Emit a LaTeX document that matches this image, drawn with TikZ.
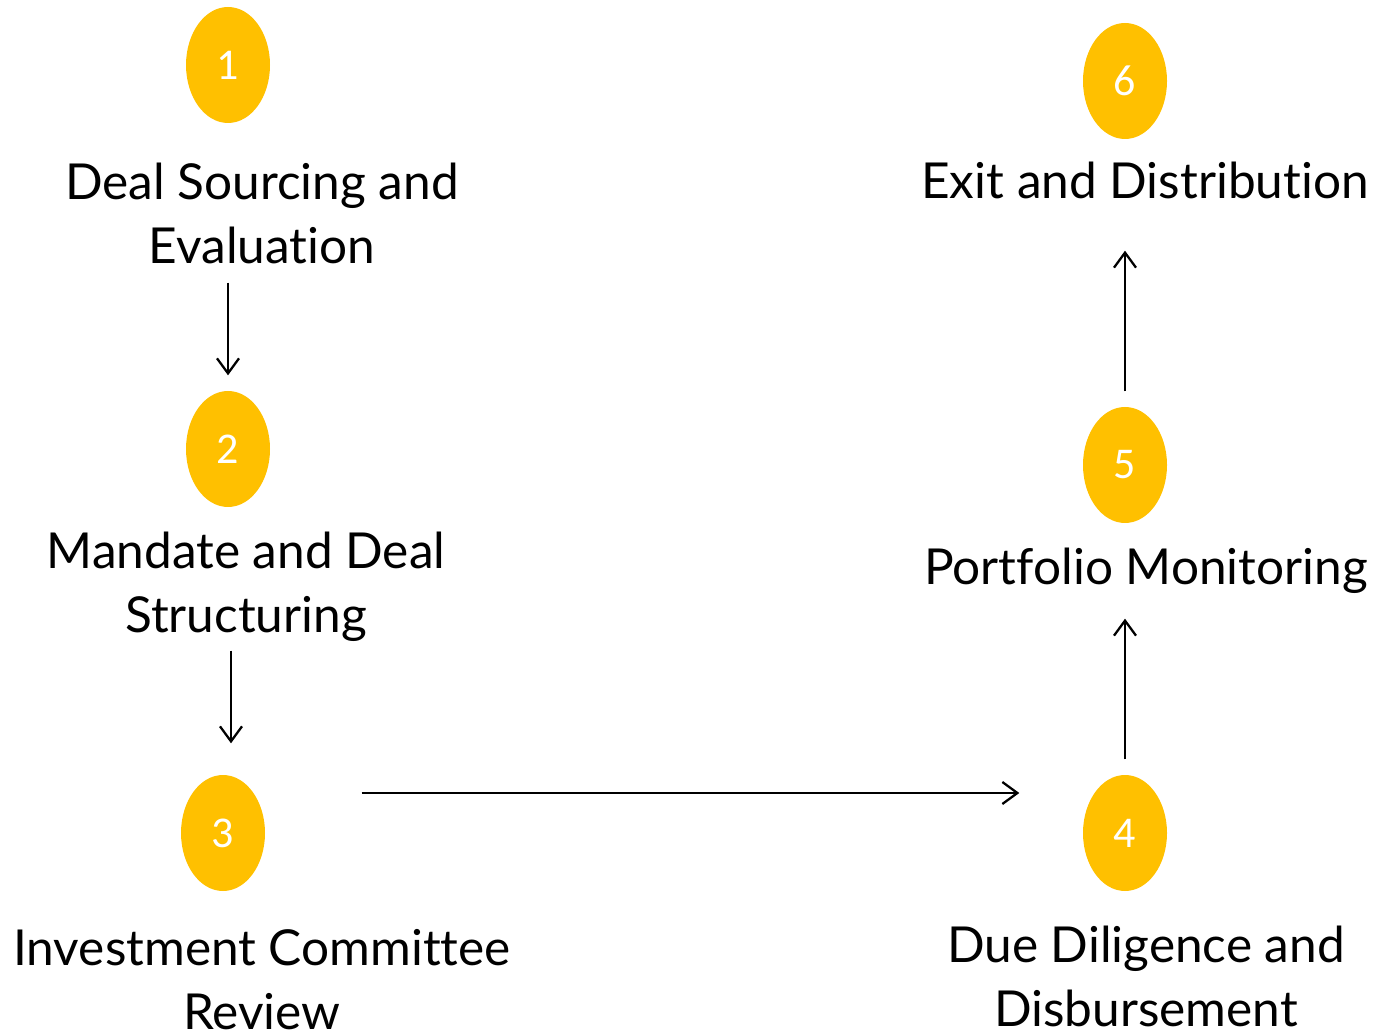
\documentclass[tikz,border=0pt]{standalone}
\usepackage{fontspec}
\setmainfont{Lato}[Ligatures=NoCommon,RawFeature=-liga]
\newfontfamily\numfont{Carlito}
\usetikzlibrary{graphs}
\usetikzlibrary{arrows.meta}
\usetikzlibrary{shapes.geometric}

\definecolor{stepgold}{HTML}{FFC000}

\begin{document}
\begin{tikzpicture} [every node/.style={align=center,inner sep=0pt},
        num/.style={ellipse,fill=stepgold,text=white,minimum width=0.84cm,minimum height=1.16cm,font=\numfont\fontsize{12.5}{14}\selectfont},
        lbl/.style={font=\fontsize{14.1}{18.2}\selectfont},
        arr/.style={-{Straight Barb[length=1.5mm,width=2.2mm]},line width=0.65pt}]
            \useasboundingbox (0,0) rectangle (13.91,-10.34);

            \node[num] (n1) at (2.28, -0.65)    {1};
            \node[num] (n2) at (2.28, -4.49)    {2};
            \node[num] (n3) at (2.23, -8.33)    {3};
            \node[num] (n4) at (11.25, -8.33)   {4};
            \node[num] (n5) at (11.25, -4.65)   {5};
            \node[num] (n6) at (11.25, -0.81)   {6};

            \node[lbl] (l1) at (2.62, -2.13)    {Deal Sourcing and\\Evaluation};
            \node[lbl] (l2) at (2.46, -5.87)    {Mandate and Deal\\Structuring};
            \node[lbl] (l3) at (2.62, -9.80)    {Investment Committee\\Review};
            \node[lbl] (l4) at (11.46, -9.76)   {Due Diligence and\\Disbursement};
            \node[lbl] (l5) at (11.46, -5.71)   {Portfolio Monitoring};
            \node[lbl] (l6) at (11.45, -1.80)   {Exit and Distribution};

            \draw[arr,shorten <=1.59cm,shorten >=0.15cm] (n1.south) -- (n2.north);
            \draw[arr,shorten <=1.43cm,shorten >=0.31cm] ([xshift=0.03cm]n2.south) -- ([xshift=0.03cm]n2.south |- n3.north);
            \draw[arr,shorten <=0.96cm,shorten >=0.63cm] ([yshift=0.4cm]n3.east) -- ([yshift=0.4cm]n4.west);
            \draw[arr,shorten <=0.15cm,shorten >=0.95cm] (n4.north) -- (n5.south);
            \draw[arr,shorten <=0.15cm,shorten >=1.11cm] (n5.north) -- (n6.south);
        \end{tikzpicture}
\end{document}
